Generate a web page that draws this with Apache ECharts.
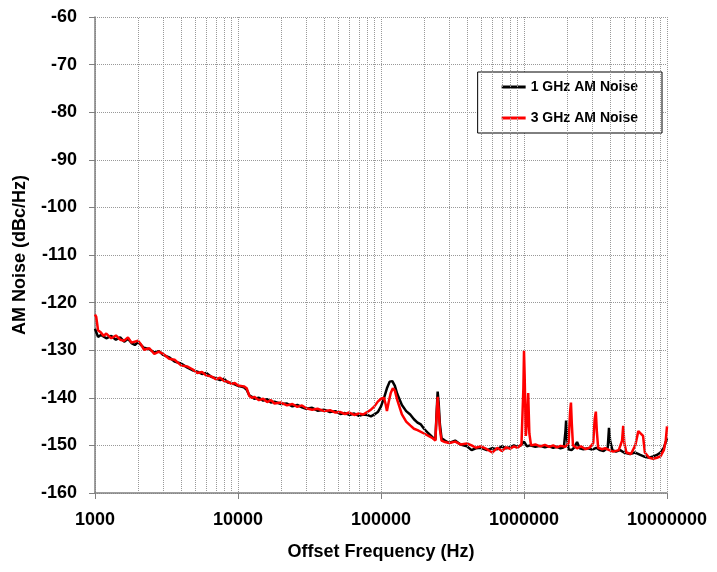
<!DOCTYPE html>
<html><head><meta charset="utf-8">
<script src="https://cdn.jsdelivr.net/npm/echarts@6/dist/echarts.min.js"></script>
<style>html,body{margin:0;padding:0;background:#fff}#c{width:717px;height:572px}</style>
</head><body><div id="c"></div>
<script>
const seriesNames = ['1 GHz AM Noise', '3 GHz AM Noise'];
const yTicks = [-160,-150,-140,-130,-120,-110,-100,-90,-80,-70,-60];
const xTicks = [1000, 10000, 100000, 1000000, 10000000];
const minorGrid = [2000,3000,4000,5000,6000,7000,8000,9000,
  20000,30000,40000,50000,60000,70000,80000,90000,
  200000,300000,400000,500000,600000,700000,800000,900000,
  2000000,3000000,4000000,5000000,6000000,7000000,8000000,9000000];

const freq1 = [1000,1050,1100,1200,1300,1400,1500,1600,1700,1800,1900,2000,2200,2400,2600,2800,3000,3300,3600,4000,4400,4800,5200,5600,6000,6500,7000,7500,8000,8500,9000,9500,10000,11000,11500,12000,12500,13000,14000,15000,16000,17000,18000,20000,22000,24000,26000,28000,30000,33000,36000,40000,44000,48000,52000,56000,60000,65000,70000,75000,80000,85000,90000,95000,100000,105000,110000,115000,120000,125000,130000,140000,150000,160000,170000,180000,190000,200000,215000,230000,240000,245000,249000,253000,258000,265000,280000,300000,330000,360000,400000,430000,460000,500000,550000,600000,650000,700000,750000,800000,850000,900000,950000,1000000,1050000,1100000,1200000,1300000,1400000,1500000,1600000,1700000,1800000,1900000,1950000,1970000,2000000,2050000,2150000,2250000,2350000,2450000,2600000,2800000,3000000,3200000,3400000,3600000,3850000,3930000,4000000,4150000,4400000,4700000,5000000,5500000,6000000,6500000,7000000,7500000,8000000,8500000,9000000,9500000,10000000];
const noise1 = [-125.5,-127.2,-126.8,-127.5,-127.0,-127.8,-127.3,-128.2,-127.6,-128.5,-128.9,-128.3,-129.5,-129.8,-130.5,-130.2,-131.0,-131.5,-132.4,-132.8,-133.6,-134.2,-134.5,-135.0,-134.8,-135.6,-135.9,-136.3,-136.0,-136.8,-136.9,-137.2,-137.5,-137.8,-138.3,-139.5,-139.8,-140.2,-140.0,-140.6,-140.3,-141.0,-140.8,-141.3,-141.2,-141.8,-141.5,-142.0,-142.3,-142.1,-142.7,-142.5,-143.0,-142.8,-143.4,-143.2,-143.6,-143.3,-143.8,-143.5,-143.6,-143.9,-143.5,-143.0,-141.8,-140.0,-138.0,-136.6,-136.5,-137.5,-139.2,-141.5,-142.8,-143.5,-144.5,-145.2,-145.6,-146.5,-147.5,-148.3,-148.8,-143.0,-138.7,-141.0,-145.5,-148.5,-149.0,-149.5,-149.0,-149.8,-150.2,-151.0,-150.6,-150.5,-151.0,-150.6,-150.8,-150.2,-150.6,-150.4,-150.0,-150.3,-150.0,-149.2,-150.2,-150.0,-150.3,-150.1,-150.4,-150.2,-150.5,-150.3,-150.6,-150.4,-147.0,-144.8,-148.5,-150.8,-151.0,-150.4,-149.3,-150.6,-150.8,-150.6,-150.9,-150.5,-151.0,-151.2,-150.5,-146.3,-149.0,-151.0,-151.3,-151.0,-151.5,-151.8,-151.5,-152.0,-152.4,-152.6,-152.3,-152.0,-151.5,-150.5,-148.5];

const freq2 = [1000,1020,1050,1100,1150,1200,1300,1400,1500,1600,1700,1800,2000,2100,2200,2400,2600,2800,3000,3300,3600,4000,4400,4800,5200,5600,6000,6500,7000,7500,8000,8500,9000,9500,10000,11000,11500,12000,12500,13000,14000,15000,16000,17000,18000,20000,22000,24000,26000,28000,30000,33000,36000,40000,44000,48000,52000,56000,60000,65000,70000,75000,80000,85000,90000,95000,100000,105000,108000,110000,113000,117000,121000,125000,130000,140000,150000,160000,170000,180000,200000,215000,230000,240000,245000,249000,253000,258000,265000,280000,300000,330000,360000,400000,430000,460000,500000,550000,600000,650000,700000,750000,800000,850000,900000,960000,990000,1000000,1010000,1030000,1050000,1070000,1090000,1120000,1200000,1300000,1400000,1500000,1600000,1700000,1800000,1950000,2050000,2100000,2130000,2160000,2200000,2350000,2500000,2700000,2900000,3050000,3120000,3180000,3230000,3300000,3500000,3700000,3950000,4200000,4600000,4850000,4940000,5030000,5200000,5600000,6000000,6300000,6500000,6800000,7000000,7500000,8000000,8500000,9000000,9500000,9800000,10000000];
const noise2 = [-122.5,-123.0,-125.8,-126.3,-127.0,-126.5,-127.5,-126.9,-127.8,-128.0,-127.3,-128.4,-128.0,-128.8,-129.9,-129.6,-130.8,-130.3,-130.8,-131.8,-132.0,-133.2,-133.4,-134.0,-134.8,-134.6,-135.3,-135.5,-136.1,-135.8,-136.5,-136.6,-137.1,-136.9,-137.4,-137.6,-138.0,-139.6,-140.0,-139.8,-140.5,-140.2,-140.9,-140.5,-141.2,-141.0,-141.6,-141.3,-141.9,-141.6,-142.2,-142.5,-142.3,-142.8,-142.6,-143.1,-143.0,-143.4,-143.1,-143.6,-143.3,-143.5,-143.0,-142.5,-141.8,-140.8,-140.2,-140.0,-141.5,-142.8,-141.0,-139.0,-138.0,-138.5,-140.5,-143.5,-145.0,-145.8,-146.5,-146.8,-147.5,-148.0,-148.5,-149.0,-143.5,-139.8,-142.5,-146.5,-149.0,-149.3,-149.5,-149.2,-149.8,-149.6,-150.0,-150.5,-150.2,-150.8,-151.5,-150.5,-151.2,-150.4,-150.7,-150.2,-150.5,-149.8,-138.0,-130.1,-135.0,-148.0,-145.0,-139.0,-147.5,-150.0,-149.8,-150.2,-149.9,-150.3,-150.0,-150.4,-150.1,-150.3,-149.5,-143.0,-141.0,-145.5,-150.0,-150.6,-150.2,-150.8,-150.4,-149.5,-144.5,-142.9,-147.0,-150.5,-150.8,-150.6,-151.0,-151.3,-151.0,-149.0,-145.9,-149.5,-151.5,-151.8,-150.0,-147.0,-146.8,-148.0,-151.5,-152.6,-152.8,-152.6,-152.3,-151.0,-149.0,-146.0];

const pairs = (xs, ys) => xs.map((x, i) => [x, ys[i]]);
const font = '"Liberation Sans", Arial, sans-serif';
const chart = echarts.init(document.getElementById('c'));
chart.setOption({
  animation: false,
  backgroundColor: '#fff',
  grid: { left: 95, right: 50, top: 17, bottom: 79 },
  legend: {
    orient: 'vertical',
    right: 55, top: 72,
    data: seriesNames,
    icon: 'rect',
    itemWidth: 24, itemHeight: 3,
    itemGap: 17,
    padding: [8, 24, 8, 24],
    backgroundColor: '#fff',
    borderColor: '#000', borderWidth: 1,
    textStyle: { fontFamily: font, fontWeight: 'bold', fontSize: 14, color: '#000' }
  },
  xAxis: {
    type: 'log', logBase: 10, min: 1000, max: 10000000,
    name: 'Offset Frequency (Hz)', nameLocation: 'middle', nameGap: 50,
    nameTextStyle: { fontFamily: font, fontWeight: 'bold', fontSize: 18, color: '#000' },
    axisLine: { lineStyle: { color: '#808080', width: 1.5 } },
    axisTick: { show: true, inside: false, length: 6, lineStyle: { color: '#808080' } },
    axisLabel: { fontFamily: font, fontWeight: 'bold', fontSize: 18, color: '#000', margin: 18,
      formatter: v => xTicks.includes(Math.round(v)) ? String(Math.round(v)) : '' },
    splitLine: { show: true, lineStyle: { color: '#999', type: 'dotted', width: 1 } }
  },
  yAxis: {
    type: 'value', min: -160, max: -60, interval: 10,
    name: 'AM Noise (dBc/Hz)', nameLocation: 'middle', nameGap: 66, nameRotate: 90,
    nameTextStyle: { fontFamily: font, fontWeight: 'bold', fontSize: 18, color: '#000' },
    axisLine: { show: true, lineStyle: { color: '#808080', width: 1.5 } },
    axisTick: { show: true, length: 6, lineStyle: { color: '#808080' } },
    axisLabel: { fontFamily: font, fontWeight: 'bold', fontSize: 18, color: '#000', margin: 18,
      formatter: v => yTicks.includes(v) ? String(v) : '' },
    splitLine: { show: true, lineStyle: { color: '#999', type: 'dotted', width: 1 } }
  },
  series: [
    {
      name: seriesNames[0], type: 'line', data: pairs(freq1, noise1),
      showSymbol: false, symbol: 'none',
      lineStyle: { color: '#000', width: 2.5 }, itemStyle: { color: '#000' },
      markLine: {
        silent: true, symbol: 'none', label: { show: false },
        lineStyle: { color: '#999', type: 'dotted', width: 1 },
        data: minorGrid.map(x => ({ xAxis: x }))
      },
      z: 2
    },
    {
      name: seriesNames[1], type: 'line', data: pairs(freq2, noise2),
      showSymbol: false, symbol: 'none',
      lineStyle: { color: '#ff0000', width: 2.5 }, itemStyle: { color: '#ff0000' },
      z: 3
    }
  ]
});
</script></body></html>
